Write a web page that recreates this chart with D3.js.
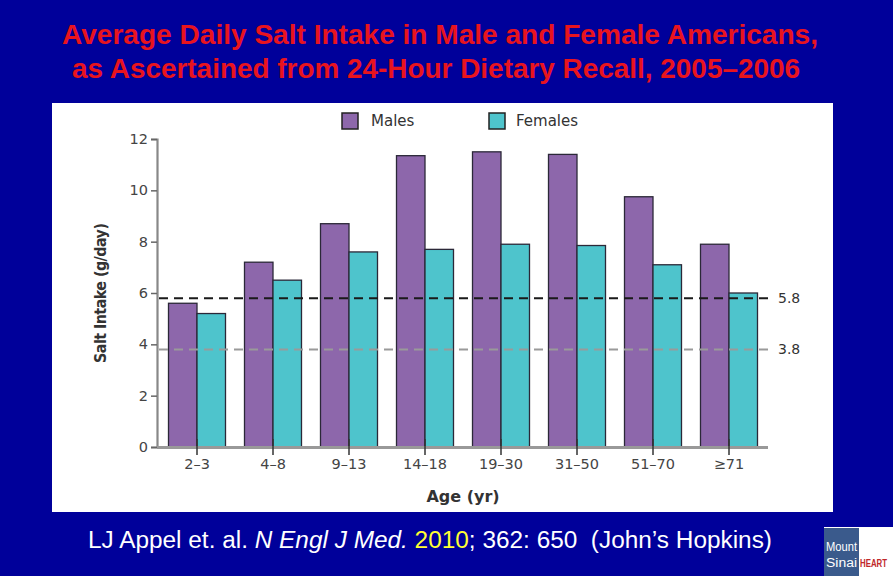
<!DOCTYPE html>
<html><head><meta charset="utf-8">
<script src="https://cdn.jsdelivr.net/npm/d3@7/dist/d3.min.js"></script>
<style>html,body{margin:0;padding:0;background:#000099;}svg{display:block;}</style>
</head><body>
<script>
const categories = ["2–3","4–8","9–13","14–18","19–30","31–50","51–70","≥71"];
const series = ["Males","Females"];
const males = [5.6, 7.2, 8.7, 11.35, 11.5, 11.4, 9.75, 7.9];
const females = [5.2, 6.5, 7.6, 7.7, 7.9, 7.85, 7.1, 6.0];
const yTicks = [0,2,4,6,8,10,12];
const refValues = [5.8, 3.8];
const refLabels = ["5.8", "3.8"];
const titleLines = ["Average Daily Salt Intake in Male and Female Americans,", "as Ascertained from 24-Hour Dietary Recall, 2005–2006"];

const W = 893, H = 576;
const svg = d3.select("body").append("svg").attr("width", W).attr("height", H);
svg.append("rect").attr("width", W).attr("height", H).attr("fill", "#00009a");

// title
svg.append("text").attr("x", 62).attr("y", 44)
  .attr("font-family","Liberation Sans, Arial, sans-serif").attr("font-weight","bold")
  .attr("font-size", 27.5).attr("fill","#e8141e").attr("textLength",756).attr("lengthAdjust","spacingAndGlyphs").text(titleLines[0]);
svg.append("text").attr("x", 72).attr("y", 78)
  .attr("font-family","Liberation Sans, Arial, sans-serif").attr("font-weight","bold")
  .attr("font-size", 27.5).attr("fill","#e8141e").attr("textLength",728).attr("lengthAdjust","spacingAndGlyphs").text(titleLines[1]);

// white panel
svg.append("rect").attr("x",52).attr("y",103).attr("width",781).attr("height",409).attr("fill","#fff");

const y = d3.scaleLinear().domain([0,12]).range([447,139]);
const x = d3.scaleBand().domain(categories).range([159,767]).paddingInner(0.25).paddingOuter(0.125);
const xs = d3.scaleBand().domain(series).range([0, x.bandwidth()]);
const color = d3.scaleOrdinal().domain(series).range(["#8d67ab","#4ec4cc"]);

const data = categories.map((c,i)=>({cat:c, vals:[{s:"Males",v:males[i]},{s:"Females",v:females[i]}]}));

const font = "DejaVu Sans, Verdana, sans-serif";

// bars
const g = svg.append("g");
g.selectAll("g.grp").data(data).join("g").attr("class","grp")
  .attr("transform", d=>`translate(${x(d.cat)},0)`)
  .selectAll("rect").data(d=>d.vals).join("rect")
  .attr("x", d=>xs(d.s)).attr("width", xs.bandwidth())
  .attr("y", d=>y(d.v)).attr("height", d=>y(0)-y(d.v))
  .attr("fill", d=>color(d.s)).attr("stroke","#2b2838").attr("stroke-width",1.3);

// y axis
const yAxis = d3.axisLeft(y).tickValues(yTicks).tickSize(6).tickPadding(3);
const ya = svg.append("g").attr("transform","translate(157,0)").call(yAxis);
ya.select(".domain").attr("stroke","#888").attr("stroke-width",2.2);
ya.selectAll(".tick line").attr("stroke","#666").attr("stroke-width",1.5);
ya.selectAll(".tick text").attr("font-family",font).attr("font-size",14.5).attr("fill","#444");

// x axis
const xAxis = d3.axisBottom(x).tickSize(0).tickPadding(12);
const xa = svg.append("g").attr("transform","translate(0,447)").call(xAxis);
xa.select(".domain").attr("d","M157,0.5H768").attr("stroke","#999").attr("stroke-width",3);
xa.selectAll(".tick text").attr("font-family",font).attr("font-size",14.5).attr("fill","#444");
xa.selectAll(".tick").append("line").attr("y1",-8).attr("y2",8).attr("stroke","#333").attr("stroke-width",1.5);

// reference lines
const refColors = ["#1a1a1a","#9a9a9a"];
refValues.forEach((v,i)=>{
  svg.append("line").attr("x1",159).attr("x2",768).attr("y1",y(v)).attr("y2",y(v))
    .attr("stroke",refColors[i]).attr("stroke-width",2).attr("stroke-dasharray","9,6");
  svg.append("text").attr("x",778).attr("y",y(v)+5).attr("font-family",font)
    .attr("font-size",14).attr("fill","#333").text(refLabels[i]);
});

// legend
const leg = [{s:"Males",x:342,tx:371},{s:"Females",x:489,tx:516}];
leg.forEach(l=>{
  svg.append("rect").attr("x",l.x).attr("y",113).attr("width",16).attr("height",16)
    .attr("fill",color(l.s)).attr("stroke","#222").attr("stroke-width",1.5);
  svg.append("text").attr("x",l.tx).attr("y",126).attr("font-family",font)
    .attr("font-size",15).attr("fill","#333").text(l.s);
});

// axis titles
svg.append("text").attr("transform","translate(106,293) rotate(-90)").attr("text-anchor","middle")
  .attr("font-family","DejaVu Sans Condensed, DejaVu Sans, sans-serif").attr("font-weight","bold")
  .attr("font-size",16).attr("fill","#333").attr("textLength",140).text("Salt Intake (g/day)");
svg.append("text").attr("x",463).attr("y",502).attr("text-anchor","middle")
  .attr("font-family",font).attr("font-weight","bold")
  .attr("font-size",16).attr("fill","#333").text("Age (yr)");

// citation
const cit = svg.append("text").attr("x",88).attr("y",548).attr("font-family","Liberation Sans, Arial, sans-serif")
  .attr("font-size",23.5).attr("fill","#fff").attr("textLength",684).attr("lengthAdjust","spacingAndGlyphs");
cit.append("tspan").text("LJ Appel et. al. ");
cit.append("tspan").attr("font-style","italic").text("N Engl J Med. ");
cit.append("tspan").attr("fill","#ffff33").text("2010");
cit.append("tspan").text("; 362: 650\u00A0\u00A0(John’s Hopkins)");

// logo
const lf = "Liberation Sans Narrow, Liberation Sans, sans-serif";
svg.append("rect").attr("x",824).attr("y",527).attr("width",69).attr("height",49).attr("fill","#fff");
svg.append("rect").attr("x",824).attr("y",528).attr("width",35).attr("height",48).attr("fill","#3a5a8c");
svg.append("text").attr("x",826).attr("y",551).attr("font-family",lf).attr("font-size",12).attr("fill","#fff").attr("textLength",31).attr("lengthAdjust","spacingAndGlyphs").text("Mount");
svg.append("text").attr("x",826).attr("y",567).attr("font-family",lf).attr("font-size",12).attr("fill","#fff").attr("textLength",31).attr("lengthAdjust","spacingAndGlyphs").text("Sinai");
svg.append("text").attr("x",860).attr("y",567).attr("font-family",lf).attr("font-weight","bold").attr("font-size",11).attr("fill","#c0282a").attr("textLength",27).attr("lengthAdjust","spacingAndGlyphs").text("HEART");
</script>
</body></html>
